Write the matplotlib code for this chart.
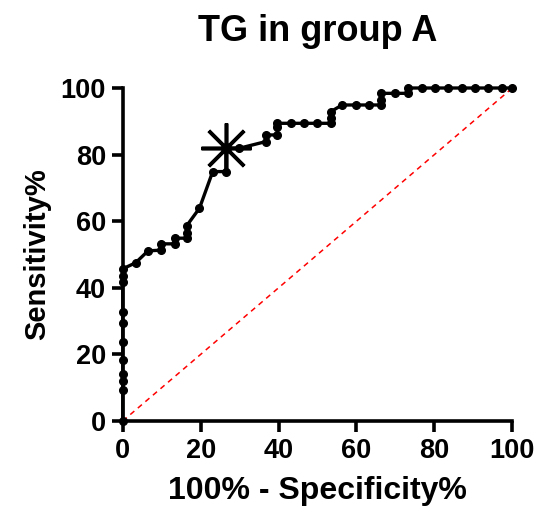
import matplotlib
matplotlib.use("Agg")
from matplotlib import pyplot as plt

# ROC points: 100% - specificity, sensitivity
fpr = [0, 0, 0, 0, 0, 0, 0, 0, 0, 0, 0,
       3.3, 6.5, 9.9, 9.9, 13.3, 13.3, 16.4, 16.4, 16.4, 19.7,
       23.1, 26.5, 26.5, 29.9, 36.7, 36.7, 39.7, 39.7, 39.7,
       43.1, 46.5, 49.9, 53.4, 53.4, 53.4, 56.3, 59.8, 63.2,
       66.4, 66.4, 66.4, 69.9, 73.2, 73.2, 76.7, 80.1, 83.5,
       87.0, 90.4, 93.8, 97.3, 100]
tpr = [0, 9.3, 12.1, 14.2, 18.3, 23.8, 29.3, 32.8, 41.8, 43.6, 45.7,
       47.5, 51.1, 51.3, 53.2, 53.2, 54.9, 54.9, 56.4, 58.6, 63.9,
       74.9, 74.9, 81.9, 81.9, 83.9, 85.9, 85.9, 88.4, 89.4,
       89.4, 89.4, 89.4, 89.4, 90.9, 92.9, 94.9, 94.9, 94.9,
       94.9, 96.4, 98.4, 98.4, 98.4, 100, 100, 100, 100,
       100, 100, 100, 100, 100]

cut_x = 26.5
cut_y = 81.9

plt.rcParams['font.family'] = ['Liberation Sans', 'DejaVu Sans']
plt.rcParams['font.weight'] = 'bold'

fig = plt.figure(figsize=(5.39, 5.09), dpi=100)
ax = fig.add_axes([0.2277, 0.1729, 0.7228, 0.6542])

ax.plot([0, 100], [0, 100], color='red', linestyle=(0, (3.5, 3)), linewidth=1.1, zorder=1)
ax.plot(fpr, tpr, color='black', linewidth=2.4, marker='o', markersize=5.5, zorder=3, clip_on=False)
ax.plot([cut_x], [cut_y], color='black', marker=(8, 2, 0), markersize=36, markeredgewidth=2.6,
        linestyle='none', zorder=4)

ax.set_xlim(0, 100)
ax.set_ylim(0, 100)
ax.set_xticks([0, 20, 40, 60, 80, 100])
ax.set_yticks([0, 20, 40, 60, 80, 100])

for s in ['top', 'right']:
    ax.spines[s].set_visible(False)
for s in ['left', 'bottom']:
    ax.spines[s].set_linewidth(2.6)
ax.tick_params(direction='out', length=8, width=2.6, labelsize=19.5, pad=4)
for lab in ax.get_xticklabels() + ax.get_yticklabels():
    lab.set_fontweight('heavy')

ax.set_xlabel('100% - Specificity%', fontsize=23, fontweight='heavy', labelpad=9)
ax.set_ylabel('Sensitivity%', fontsize=21, fontweight='heavy', labelpad=7)
ax.set_title('TG in group A', fontsize=26, fontweight='heavy', pad=34)

fig.savefig('out.png', dpi=100)
